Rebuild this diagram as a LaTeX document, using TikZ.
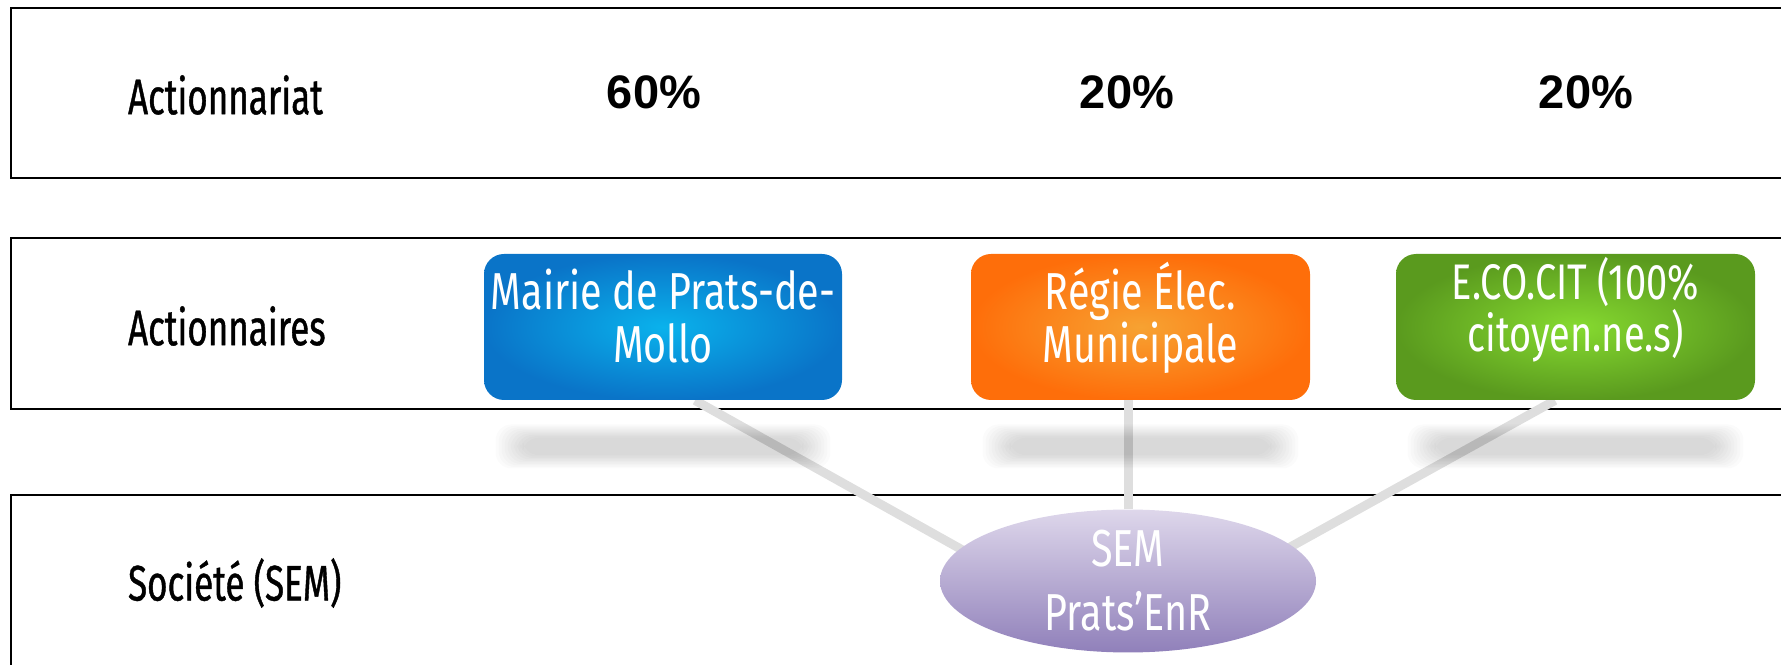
\documentclass[tikz,border=0pt]{standalone}
\usepackage{fontspec}
\setmainfont[FakeStretch=0.76]{Fira Sans}
\newfontfamily\labelfont[FakeStretch=0.70,FakeBold=0.8]{Fira Sans}
\newfontfamily\pctfont{Liberation Sans}
\usetikzlibrary{calc,shapes.geometric}
\pgfdeclarelayer{bg}
\pgfsetlayers{bg,main}
\definecolor{mairieIn}{HTML}{0AB2EC}
\definecolor{mairieOut}{HTML}{0A74C8}
\definecolor{regieIn}{HTML}{F7A232}
\definecolor{regieOut}{HTML}{FE6E0A}
\definecolor{citoyenIn}{HTML}{86DA30}
\definecolor{citoyenOut}{HTML}{5A9A1E}
\definecolor{semTop}{HTML}{DED7EB}
\definecolor{semBottom}{HTML}{9080BA}

\begin{document}
\begin{tikzpicture}[x=0.5pt,y=0.5pt,
    rowlabel/.style={anchor=west, font=\labelfont\fontsize{25}{26}\selectfont},
    pct/.style={font=\pctfont\bfseries\fontsize{23.5}{26}\selectfont},
    actbox/.style={rounded corners=10pt, minimum height=73pt, inner sep=0pt,
        text height=45pt, text depth=9pt,
        text=white, align=center, font=\fontsize{26}{26.5}\selectfont},
    link/.style={line width=4.5pt, black!13}]
    \useasboundingbox (0,0) rectangle (1781,664);
    \clip (0,0) rectangle (1781,664);
    % Draw the row labels
    \node[rowlabel] (actionnariat) at (121,569) {Actionnariat};
    \node[rowlabel] (actionnaires) at (121,338) {Actionnaires};
    \node[rowlabel] (societe) at (121,81) {Société (SEM)};
    % Draw the shares
    \node[pct] (p60) at (654,572) {60\%};
    \node[pct] (p20a) at (1127,572) {20\%};
    \node[pct] (p20b) at (1586,572) {20\%};
    % Draw the shareholders
    \node[actbox, minimum width=179pt, shading=radial, inner color=mairieIn, outer color=mairieOut]
        (mairie) at (663,337) {Mairie de Prats-de-\\Mollo};
    \node[actbox, minimum width=169.5pt, shading=radial, inner color=regieIn, outer color=regieOut]
        (regie) at (1140.5,337) {Régie Élec.\\Municipale};
    \node[actbox, minimum width=179.5pt, shading=radial, inner color=citoyenIn, outer color=citoyenOut,
        text height=40pt, text depth=15.5pt, font=\fontsize{25}{19.5}\selectfont]
        (citoyen) at (1575.5,337) {E.CO.CIT (100\%\\citoyen.ne.s)};
    % Draw the company
    \node[ellipse, minimum width=188pt, minimum height=70pt, inner sep=0pt, top color=semTop,
        bottom color=semBottom, text=white, align=center, font=\fontsize{26}{32}\selectfont]
        (sem) at (1128,83) {SEM\\Prats’EnR};
    \begin{pgfonlayer}{bg}
        % Draw the rows
        \draw[line width=1pt] (11,656) rectangle (1800,486);
        \draw[line width=1pt] (11,425.5) rectangle (1800,255);
        \draw[line width=1pt] (11,169) rectangle (1800,-20);
        % Draw the links
        \draw[link] ($(mairie.south)+(32,0)$) -- ($(sem.center)+(-128,10)$);
        \draw[link] (sem.north) -- (sem.north |- regie.south);
        \draw[link] ($(citoyen.south)+(-20.5,0)$) -- ($(sem.center)+(128,15)$);
        % Draw the soft shadows
        \foreach \b in {mairie,regie,citoyen}
            \foreach \k in {0,...,9}
                \fill[black, opacity=0.017, rounded corners=8pt]
                    ($(\b.south west)+(12+3*\k,-68+1.5*\k)$) rectangle ($(\b.south east)+(-12-3*\k,-24-1.5*\k)$);
    \end{pgfonlayer}
\end{tikzpicture}
\end{document}
